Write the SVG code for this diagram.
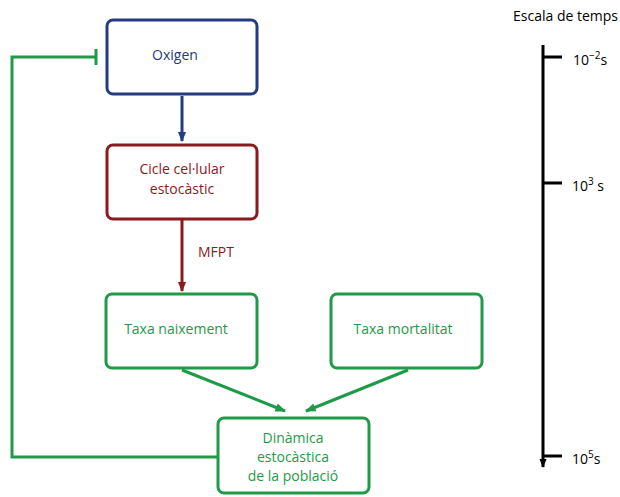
<svg xmlns="http://www.w3.org/2000/svg" width="620" height="497" viewBox="0 0 620 497">
<defs>
<style>
text{font-family:"Open Sans","Liberation Sans",sans-serif;font-size:14px}
.box{fill:#fff;stroke-width:3}
.b{stroke:#243B80;fill:#243B80}
.r{stroke:#8B1A1E;fill:#8B1A1E}
.g{stroke:#1E9A48;fill:#1E9A48}
.tb{fill:#243B80}.tr{fill:#8B1A1E}.tg{fill:#1E9A48}
.ln{fill:none;stroke-width:3}
</style>
<marker id="ab" viewBox="0 0 10 10" refX="9" refY="5" markerWidth="3.5" markerHeight="3.5" orient="auto" markerUnits="strokeWidth"><path d="M0,1 L10,5 L0,9 z" fill="#243B80"/></marker>
<marker id="ar" viewBox="0 0 10 10" refX="9" refY="5" markerWidth="3.5" markerHeight="3.5" orient="auto" markerUnits="strokeWidth"><path d="M0,1 L10,5 L0,9 z" fill="#8B1A1E"/></marker>
<marker id="ag" viewBox="0 0 10 10" refX="9" refY="5" markerWidth="3.5" markerHeight="3.5" orient="auto" markerUnits="strokeWidth"><path d="M0,1 L10,5 L0,9 z" fill="#1E9A48"/></marker>
<marker id="ak" viewBox="0 0 10 10" refX="9" refY="5" markerWidth="3" markerHeight="3" orient="auto" markerUnits="strokeWidth"><path d="M0,1 L10,5 L0,9 z" fill="#000"/></marker>
</defs>
<g id="connectors">
<line class="ln b" x1="182" y1="96" x2="182" y2="141" marker-end="url(#ab)"/>
<line class="ln r" x1="182" y1="220" x2="182" y2="291" marker-end="url(#ar)"/>
<line class="ln g" x1="182" y1="370" x2="285" y2="411" marker-end="url(#ag)"/>
<line class="ln g" x1="408" y1="370" x2="306" y2="411" marker-end="url(#ag)"/>
<polyline class="ln g" points="218,457 12,457 12,57 96,57"/>
<line class="ln g" x1="96" y1="49" x2="96" y2="65"/>
</g>
<text x="198" y="257" class="tr">MFPT</text>
<g id="oxigen">
<rect class="box b" x="107" y="20" width="150" height="74" rx="6" style="fill:#fff"/>
<text x="175" y="60" text-anchor="middle" class="tb">Oxigen</text>
</g>
<g id="cicle">
<rect class="box r" x="107" y="145" width="150" height="74" rx="6" style="fill:#fff"/>
<text x="182" y="174" text-anchor="middle" class="tr">Cicle cel·lular</text>
<text x="182" y="194" text-anchor="middle" class="tr">estocàstic</text>
</g>
<g id="naixement">
<rect class="box g" x="106" y="294" width="151" height="74" rx="6" style="fill:#fff"/>
<text x="176" y="334" text-anchor="middle" class="tg">Taxa naixement</text>
</g>
<g id="mortalitat">
<rect class="box g" x="331" y="294" width="151" height="74" rx="6" style="fill:#fff"/>
<text x="403" y="334" text-anchor="middle" class="tg">Taxa mortalitat</text>
</g>
<g id="dinamica">
<rect class="box g" x="218" y="418" width="151" height="75" rx="6" style="fill:#fff"/>
<text x="293" y="443" text-anchor="middle" class="tg">Dinàmica</text>
<text x="293" y="462" text-anchor="middle" class="tg">estocàstica</text>
<text x="293" y="481" text-anchor="middle" class="tg">de la població</text>
</g>
<g id="timescale">
<text x="513" y="21" fill="#000">Escala de temps</text>
<line x1="543" y1="45" x2="543" y2="467" stroke="#000" stroke-width="3" marker-end="url(#ak)"/>
<line x1="543" y1="57" x2="562" y2="57" stroke="#000" stroke-width="3"/>
<line x1="543" y1="183" x2="562" y2="183" stroke="#000" stroke-width="3"/>
<line x1="543" y1="456" x2="562" y2="456" stroke="#000" stroke-width="3"/>
<text x="573" y="65" fill="#000">10<tspan font-size="10" dy="-6">−2</tspan><tspan dy="6">s</tspan></text>
<text x="572" y="191" fill="#000">10<tspan font-size="10" dy="-6">3</tspan><tspan dy="6"> s</tspan></text>
<text x="572" y="464" fill="#000">10<tspan font-size="10" dy="-6">5</tspan><tspan dy="6">s</tspan></text>
</g>
</svg>
